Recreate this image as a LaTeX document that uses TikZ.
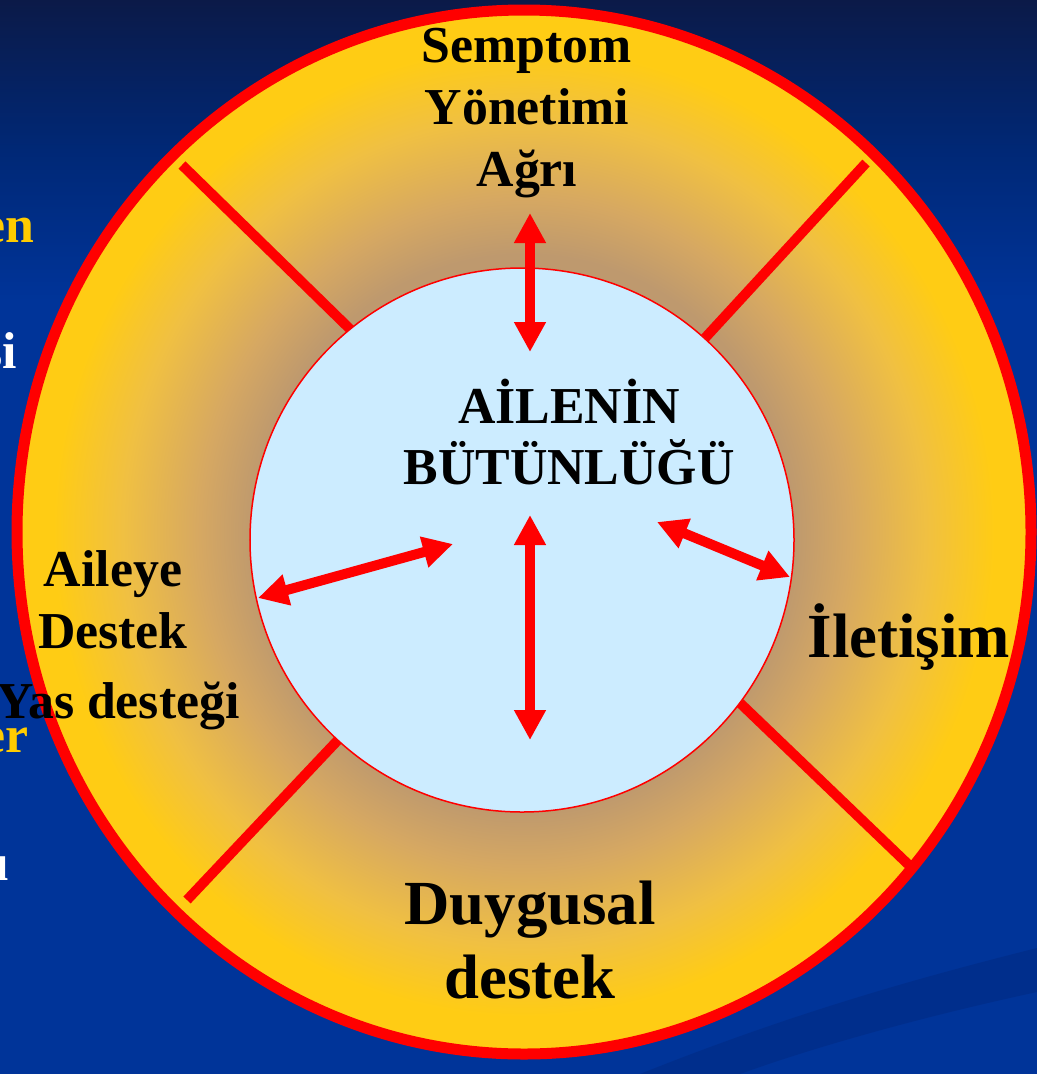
\documentclass[tikz,border=0pt]{standalone}
\usepackage{fontspec}
\setmainfont{Liberation Serif}
\usetikzlibrary{arrows.meta}
\definecolor{bgtop}{RGB}{11,26,72}
\definecolor{bgmid}{RGB}{0,40,118}
\definecolor{bgbot}{RGB}{0,52,153}
\definecolor{bgband}{RGB}{0,46,140}
\definecolor{ringyellow}{RGB}{255,204,20}
\definecolor{ringlight}{RGB}{240,192,66}
\definecolor{ringmid}{RGB}{214,168,98}
\definecolor{ringtan}{RGB}{190,153,110}
\definecolor{corefill}{RGB}{204,236,255}
\definecolor{fragyellow}{RGB}{255,204,0}
\pgfdeclareverticalshading{slidebg}{100bp}{color(0bp)=(bgbot); color(61bp)=(bgbot); color(68bp)=(bgmid); color(75bp)=(bgtop); color(100bp)=(bgtop)}
\pgfdeclareradialshading{ringglow}{\pgfpoint{0bp}{0bp}}{color(0bp)=(ringtan); color(13.3bp)=(ringtan); color(16bp)=(ringmid); color(19.8bp)=(ringlight); color(23.2bp)=(ringyellow); color(50bp)=(ringyellow)}
\begin{document}
\begin{tikzpicture}[x=1bp, y=-1bp,
  ringtext/.style={font=\fontsize{52}{62}\selectfont\bfseries, align=center, inner sep=0pt},
  bigtext/.style={font=\fontsize{63}{75}\selectfont\bfseries, align=center, inner sep=0pt},
  fragtext/.style={font=\fontsize{52}{62}\selectfont\bfseries, anchor=base east, inner sep=0pt},
  spoke/.style={red, line width=10bp},
  link/.style={red, line width=10bp, arrows={Triangle[length=30bp,width=30bp]-Triangle[length=30bp,width=30bp]}}]
\useasboundingbox (0,0) rectangle (1037,1074);
% slide background
\shade[shading=slidebg] (0,0) rectangle (1037,1074);
\fill[bgband] (640,1074) .. controls (800,1010) and (930,975) .. (1037,948) -- (1037,992) .. controls (930,1015) and (820,1045) .. (740,1074) -- cycle;
\node[fragtext, text=fragyellow] (fragen) at (35,242) {en};
\node[fragtext, text=white] (fragsi) at (17,368) {si};
\node[fragtext, text=fragyellow] (frager) at (29,752) {er};
\node[fragtext, text=white] (fragu) at (10,880) {u};
% ring
\shade[shading=ringglow, draw=red, line width=11bp] (524,532) ellipse [x radius=507, y radius=522];
\coordinate (nwout) at (182,165);
\coordinate (nwin) at (353,332);
\coordinate (neout) at (866,163);
\coordinate (nein) at (705,338);
\coordinate (seout) at (912,868);
\coordinate (sein) at (740,703);
\coordinate (swout) at (187,900);
\coordinate (swin) at (338,740);
\draw[spoke] (nwout) -- (nwin);
\draw[spoke] (neout) -- (nein);
\draw[spoke] (seout) -- (sein);
\draw[spoke] (swout) -- (swin);
% core
\node[circle, draw=red, line width=1.5bp, fill=corefill, minimum size=544bp, inner sep=0pt] (core) at (522,540) {};
\node[ringtext] (whole) at (569,432) {AİLENİN\\BÜTÜNLÜĞÜ};
% labels
\node[ringtext] (symptom) at (527,113) {Semptom\\Yönetimi\\Ağrı};
\node[bigtext] (talk) at (909,637) {İletişim};
\node[ringtext] (support) at (113,600) {Aileye\\Destek};
\node[ringtext] (grief) at (118,706) {Yas desteği};
\node[bigtext] (feel) at (530,940) {Duygusal\\destek};
% arrows
\coordinate (upa) at (530,213);
\coordinate (upb) at (530,352);
\coordinate (downa) at (530,515);
\coordinate (downb) at (530,740);
\coordinate (lefta) at (258,598);
\coordinate (leftb) at (453,544);
\coordinate (righta) at (657,522);
\coordinate (rightb) at (790,577);
\draw[link] (upa) -- (upb);
\draw[link] (downa) -- (downb);
\draw[link] (lefta) -- (leftb);
\draw[link] (righta) -- (rightb);
\end{tikzpicture}
\end{document}
